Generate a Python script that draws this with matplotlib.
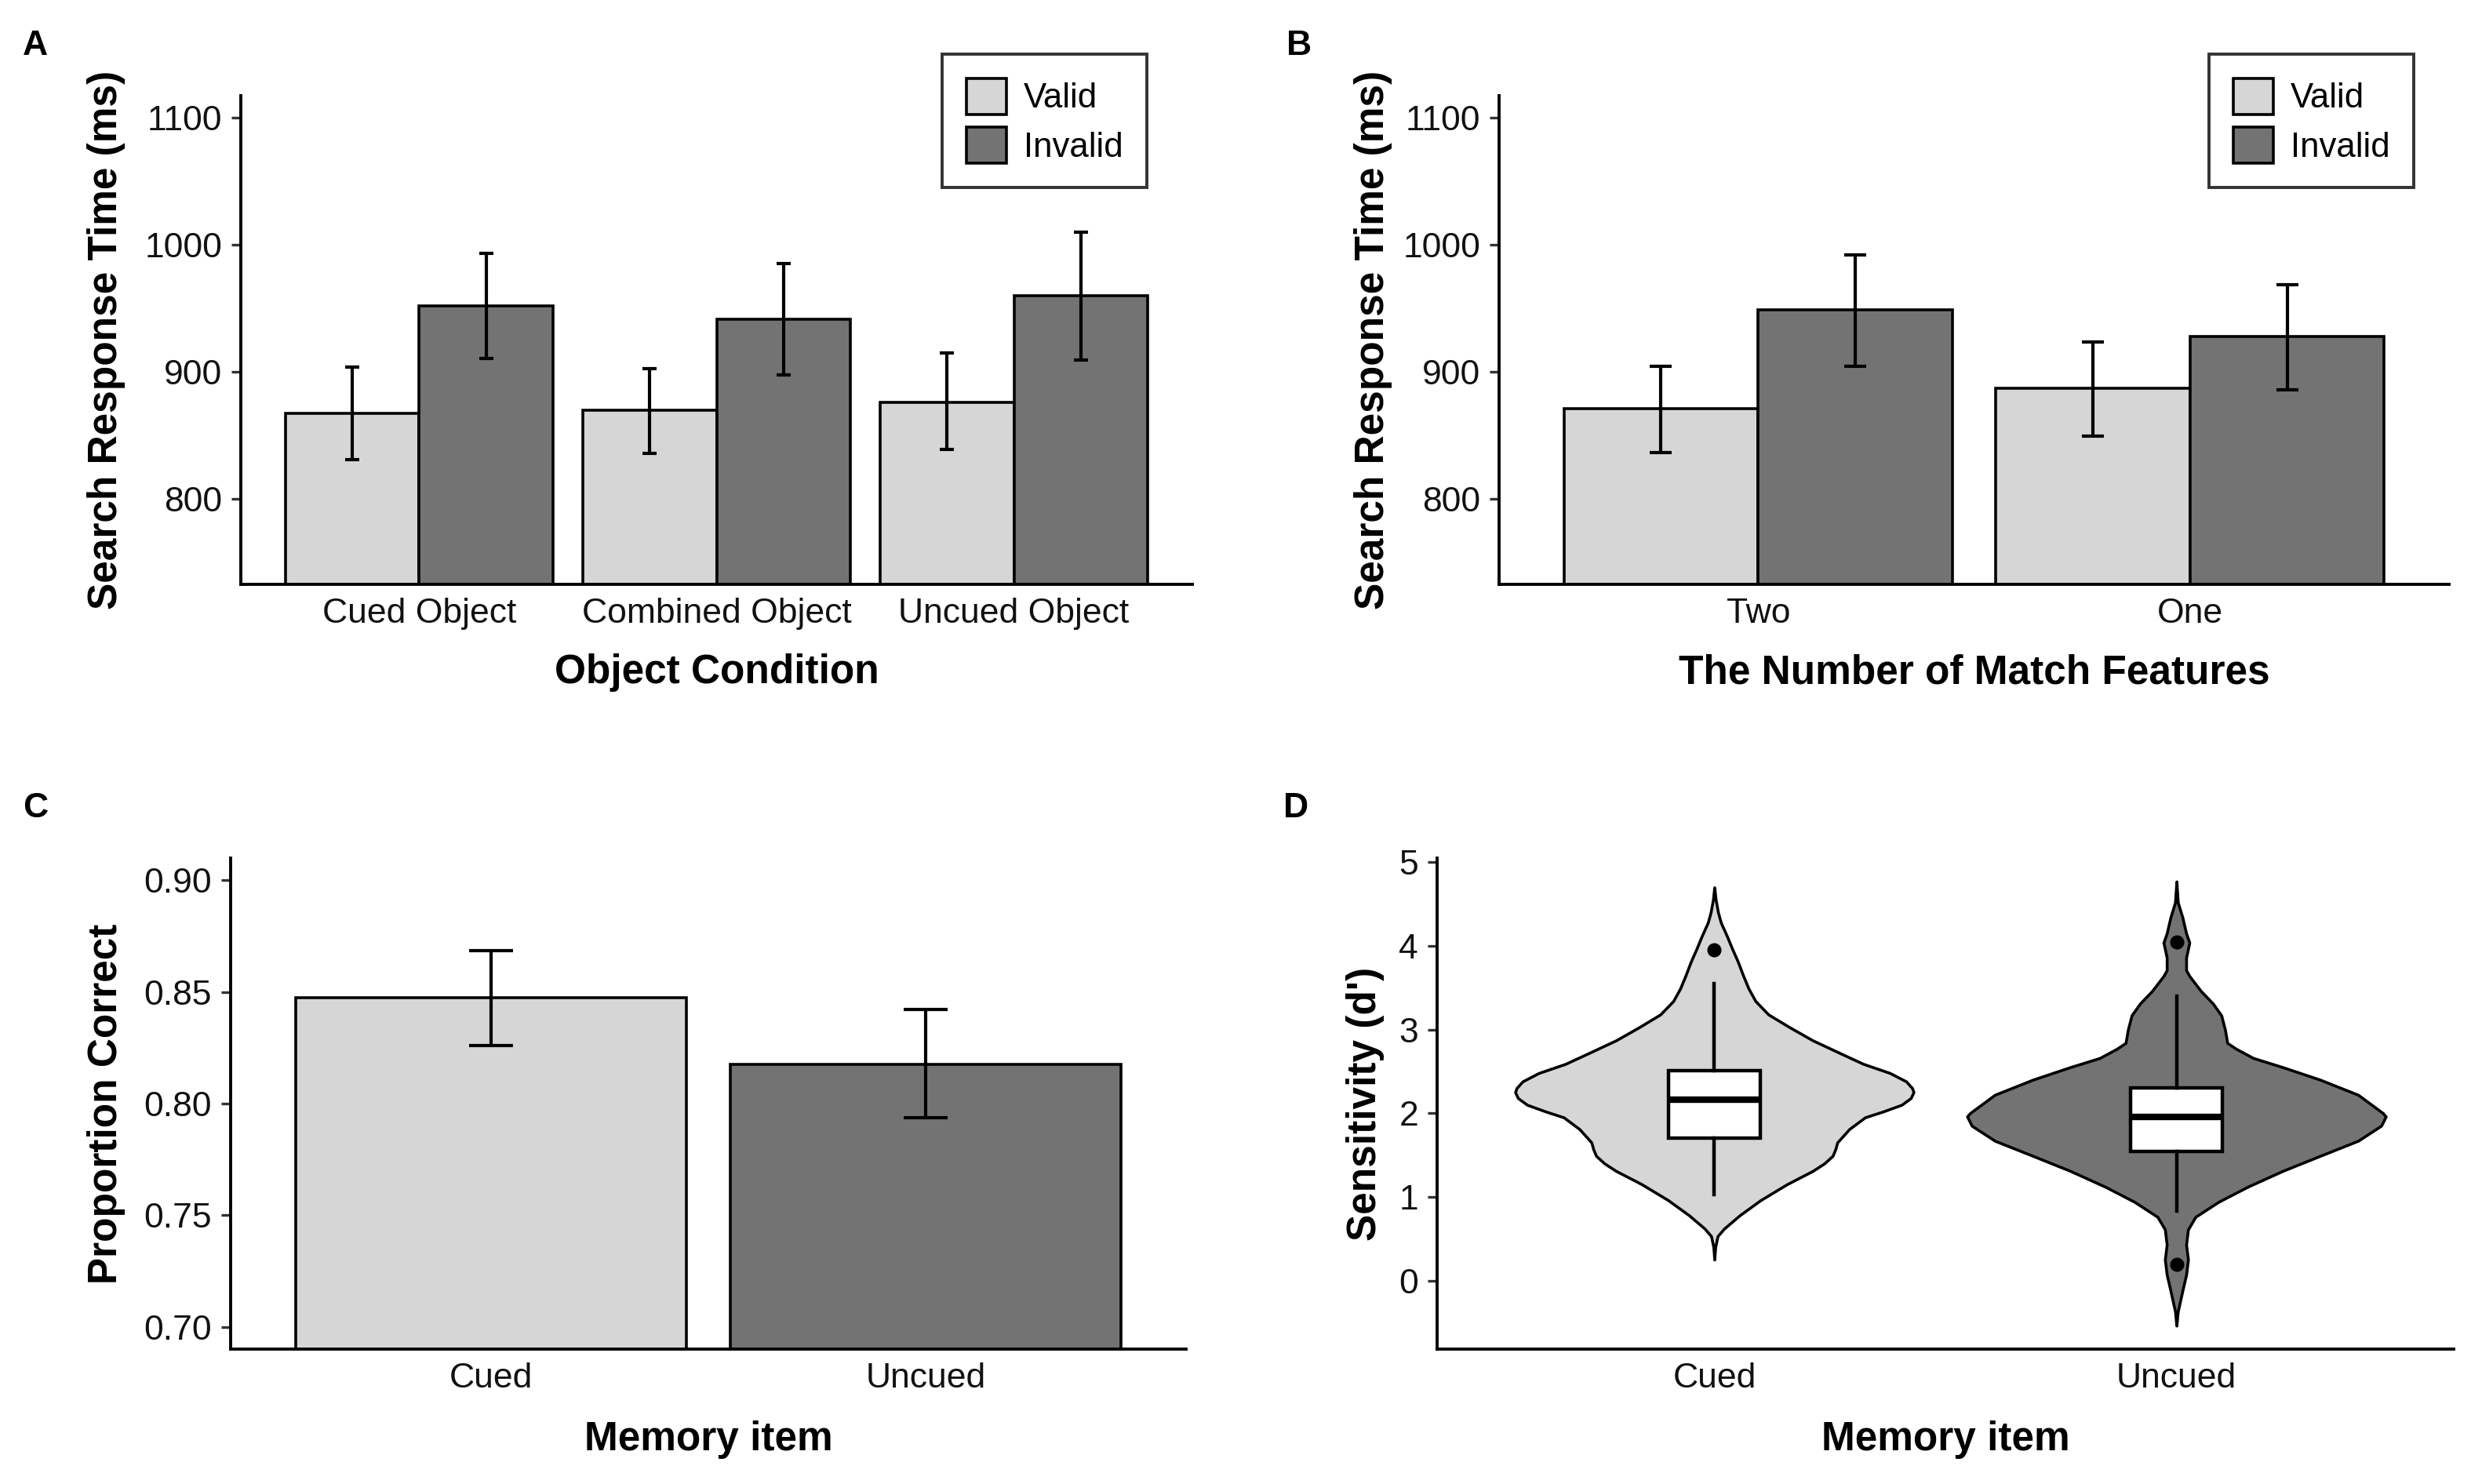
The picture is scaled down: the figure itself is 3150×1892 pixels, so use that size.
import matplotlib
matplotlib.use('Agg')
import matplotlib.pyplot as plt
import numpy as np

plt.rcParams['font.family'] = ['Liberation Sans', 'DejaVu Sans']

# ---------------- data ----------------
# Panel A
a_conditions = ['Cued Object', 'Combined Object', 'Uncued Object']
a_valid = [867, 869.5, 876]
a_valid_lo = [831, 836, 838.5]
a_valid_hi = [903.5, 902.5, 914.5]
a_invalid = [952, 941.5, 960]
a_invalid_lo = [910.5, 897.5, 909.5]
a_invalid_hi = [993.5, 985, 1010]

# Panel B
b_features = ['Two', 'One']
b_valid = [871, 887]
b_valid_lo = [836.5, 849.5]
b_valid_hi = [904, 923.5]
b_invalid = [949, 927.5]
b_invalid_lo = [904.5, 886]
b_invalid_hi = [992, 968.5]

# Panel C
c_items = ['Cued', 'Uncued']
c_prop = [0.8475, 0.8175]
c_lo = [0.826, 0.7935]
c_hi = [0.8687, 0.842]

# Panel D (violin outlines: d' value, half width)
d_items = ['Cued', 'Uncued']
cued_v = [4.70, 4.55, 4.40, 4.28, 4.12, 3.96, 3.81, 3.65, 3.49, 3.34, 3.18, 3.03,
          2.87, 2.71, 2.59, 2.48, 2.38, 2.30, 2.25, 2.18, 2.10, 2.02, 1.95, 1.81,
          1.65, 1.57, 1.49, 1.40, 1.31, 1.15, 0.96, 0.78, 0.62, 0.53, 0.40, 0.25]
cued_hw = [0.0, 0.003, 0.008, 0.014, 0.027, 0.039, 0.051, 0.062, 0.074, 0.089, 0.117, 0.162,
           0.213, 0.275, 0.322, 0.380, 0.415, 0.428, 0.431, 0.425, 0.405, 0.365, 0.326, 0.292,
           0.266, 0.262, 0.256, 0.238, 0.213, 0.157, 0.100, 0.055, 0.021, 0.007, 0.002, 0.0]
uncued_v = [4.77, 4.52, 4.34, 4.15, 4.04, 3.86, 3.71, 3.64, 3.46, 3.31, 3.17, 3.00,
            2.84, 2.77, 2.66, 2.55, 2.40, 2.22, 2.00, 1.96, 1.85, 1.67, 1.49, 1.31,
            1.12, 0.94, 0.76, 0.61, 0.43, 0.25, 0.07, -0.12, -0.37, -0.54]
uncued_hw = [0.0, 0.003, 0.013, 0.021, 0.028, 0.021, 0.021, 0.028, 0.053, 0.079, 0.097, 0.105,
             0.110, 0.129, 0.166, 0.230, 0.311, 0.393, 0.447, 0.453, 0.443, 0.393, 0.311, 0.230,
             0.154, 0.091, 0.041, 0.025, 0.021, 0.025, 0.021, 0.013, 0.003, 0.0]
# box plot summaries
d_q1 = [1.707, 1.543]
d_med = [2.166, 1.955]
d_q3 = [2.51, 2.30]
d_whislo = [1.026, 0.831]
d_whishi = [3.55, 3.40]
d_fliers = [[3.95], [4.05, 0.193]]

# ---------------- style ----------------
LIGHT = '#D6D6D6'
DARK = '#737373'
W, H = 3150, 1892
DPI = 100
fig = plt.figure(figsize=(W / DPI, H / DPI), dpi=DPI)


def add_axes(l, t, r, b):
    return fig.add_axes([l / W, 1 - b / H, (r - l) / W, (b - t) / H])


axA = add_axes(307, 122, 1520, 745)
axB = add_axes(1911, 122, 3122, 745)
axC = add_axes(294, 1094, 1512, 1720)
axD = add_axes(1832, 1094, 3128, 1720)

TICK_FS = 32
LEG_FS = 31.5
LABEL_FS = 37
EDGE_LW = 2.6


def style(ax):
    for s in ['top', 'right']:
        ax.spines[s].set_visible(False)
    for s in ['left', 'bottom']:
        ax.spines[s].set_linewidth(2.8)
        ax.spines[s].set_color('black')
    ax.tick_params(axis='y', length=8.6, width=2.4, color='#333333', pad=8.6,
                   labelsize=TICK_FS, labelcolor='#111111')
    ax.tick_params(axis='x', length=0, pad=12, labelsize=TICK_FS, labelcolor='#111111')


def cap_pts(ax, width_units):
    x0, x1 = ax.get_xlim()
    ax_px = ax.get_position().width * W
    ppu = ax_px / (x1 - x0)
    return width_units / 2 * ppu * 72 / DPI


def errbars(ax, x, y, lo, hi, cw):
    y = np.asarray(y, float)
    yerr = [y - np.asarray(lo), np.asarray(hi) - y]
    ax.errorbar(x, y, yerr=yerr, fmt='none', ecolor='black', elinewidth=3.0,
                capsize=cap_pts(ax, cw), capthick=3.0, zorder=4)


def grouped(ax, cats, valid, vlo, vhi, invalid, ilo, ihi, legend_anchor):
    x = np.arange(1, len(cats) + 1)
    w = 0.45
    ax.set_xlim(0.4, len(cats) + 0.6)
    ax.set_ylim(732.5, 1117.5)
    ax.bar(x - w / 2, valid, w, color=LIGHT, edgecolor='black', linewidth=EDGE_LW,
           label='Valid', zorder=2)
    ax.bar(x + w / 2, invalid, w, color=DARK, edgecolor='black', linewidth=EDGE_LW,
           label='Invalid', zorder=2)
    errbars(ax, x - w / 2, valid, vlo, vhi, 0.05)
    errbars(ax, x + w / 2, invalid, ilo, ihi, 0.05)
    ax.set_xticks(x)
    ax.set_xticklabels(cats)
    ax.set_yticks([800, 900, 1000, 1100])
    style(ax)
    leg = ax.legend(loc='upper right', bbox_to_anchor=legend_anchor,
                    bbox_transform=fig.transFigure, frameon=True, fancybox=False,
                    edgecolor='black', fontsize=LEG_FS, handlelength=1.17,
                    handleheight=1.25, labelspacing=0.35, borderpad=0.7,
                    handletextpad=0.5, borderaxespad=0)
    leg.get_frame().set_linewidth(2.8)
    ax.set_ylabel('Search Response Time (ms)', fontsize=LABEL_FS, fontweight='bold')


grouped(axA, a_conditions, a_valid, a_valid_lo, a_valid_hi,
        a_invalid, a_invalid_lo, a_invalid_hi, (1462 / W, 1 - 69 / H))
axA.set_xlabel('Object Condition', fontsize=LABEL_FS, fontweight='bold')
axA.yaxis.set_label_coords(-0.1208, 0.5)
axA.xaxis.set_label_coords(0.5, -0.142)

grouped(axB, b_features, b_valid, b_valid_lo, b_valid_hi,
        b_invalid, b_invalid_lo, b_invalid_hi, (3077 / W, 1 - 69 / H))
axB.set_xlabel('The Number of Match Features', fontsize=LABEL_FS, fontweight='bold')
axB.yaxis.set_label_coords(-0.112, 0.5)
axB.xaxis.set_label_coords(0.5, -0.142)

# Panel C
xc = np.arange(1, len(c_items) + 1)
axC.set_xlim(0.4, 2.6)
axC.set_ylim(0.69, 0.91)
axC.bar(xc, c_prop, 0.9, color=[LIGHT, DARK], edgecolor='black', linewidth=EDGE_LW, zorder=2)
errbars(axC, xc, c_prop, c_lo, c_hi, 0.1)
axC.set_xticks(xc)
axC.set_xticklabels(c_items)
axC.set_yticks([0.70, 0.75, 0.80, 0.85, 0.90])
axC.set_yticklabels(['%.2f' % v for v in [0.70, 0.75, 0.80, 0.85, 0.90]])
style(axC)
axC.set_ylabel('Proportion Correct', fontsize=LABEL_FS, fontweight='bold')
axC.set_xlabel('Memory item', fontsize=LABEL_FS, fontweight='bold')
axC.yaxis.set_label_coords(-0.110, 0.5)
axC.xaxis.set_label_coords(0.5, -0.146)

# Panel D
xd = np.arange(1, len(d_items) + 1)
axD.set_xlim(0.4, 2.6)
axD.set_ylim(-0.82, 5.05)
for xi, vv, hw, col in [(xd[0], cued_v, cued_hw, LIGHT), (xd[1], uncued_v, uncued_hw, DARK)]:
    vv = np.asarray(vv)
    hw = np.asarray(hw)
    axD.fill_betweenx(vv, xi - hw, xi + hw, facecolor=col, edgecolor='black',
                      linewidth=2.6, zorder=2)
stats = []
for i in range(len(d_items)):
    stats.append(dict(med=d_med[i], q1=d_q1[i], q3=d_q3[i], whislo=d_whislo[i],
                      whishi=d_whishi[i], fliers=d_fliers[i]))
axD.bxp(stats, positions=xd, widths=0.2, patch_artist=True, showcaps=False,
        boxprops=dict(facecolor='white', edgecolor='black', linewidth=3.2),
        medianprops=dict(color='black', linewidth=6),
        whiskerprops=dict(color='black', linewidth=3.2),
        flierprops=dict(marker='o', markerfacecolor='black', markeredgecolor='black',
                        markersize=12),
        zorder=3)
axD.set_xlim(0.4, 2.6)
axD.set_xticks(xd)
axD.set_xticklabels(d_items)
axD.set_yticks([0, 1, 2, 3, 4, 5])
style(axD)
axD.set_ylabel("Sensitivity (d')", fontsize=LABEL_FS, fontweight='bold')
axD.set_xlabel('Memory item', fontsize=LABEL_FS, fontweight='bold')
axD.yaxis.set_label_coords(-0.052, 0.5)
axD.xaxis.set_label_coords(0.5, -0.146)

# Panel letters
for letter, (px, py) in {'A': (45, 58), 'B': (1656, 58), 'C': (45, 1030), 'D': (1652, 1030)}.items():
    fig.text(px / W, 1 - py / H, letter, fontsize=32, fontweight='bold',
             ha='center', va='center')

fig.savefig('out.png', dpi=DPI, facecolor='white')
